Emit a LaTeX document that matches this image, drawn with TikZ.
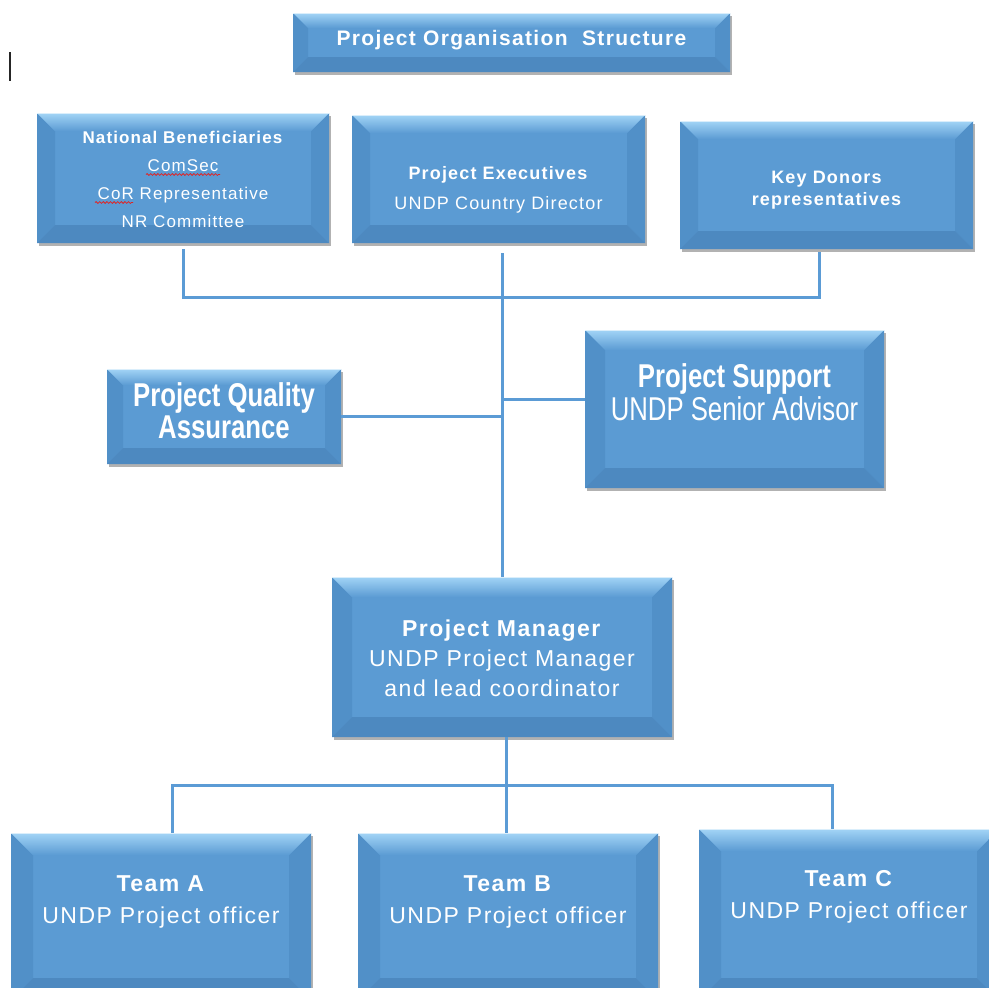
\documentclass[tikz,border=0pt]{standalone}
\usepackage{fontspec}
\setmainfont{Liberation Sans}[LetterSpace=6.5]
\newfontfamily\narrowfont{Liberation Sans}[FakeStretch=0.78]
\usetikzlibrary{shadows,decorations.pathmorphing}
\definecolor{boxmid}{HTML}{5B9BD3}
\definecolor{boxtop}{HTML}{A2D4F6}
\definecolor{boxside}{HTML}{5190C8}
\definecolor{boxbot}{HTML}{4D89C0}
\definecolor{linecol}{HTML}{5B9BD5}
\definecolor{squigred}{HTML}{E02424}
\newcommand\lift[2]{\raisebox{#1}[\height][\depth]{#2}}
\tikzset{
  bevelbox/.style={rectangle, fill=boxmid, inner sep=0pt, text=white,
    drop shadow={shadow xshift=2pt, shadow yshift=-3pt, opacity=0.3, fill=black},
    path picture={
      \path (path picture bounding box.north west) coordinate (oNW)
            (path picture bounding box.north east) coordinate (oNE)
            (path picture bounding box.south west) coordinate (oSW)
            (path picture bounding box.south east) coordinate (oSE);
      \path ([xshift=#1pt,yshift=-#1pt]oNW) coordinate (iNW)
            ([xshift=-#1pt,yshift=-#1pt]oNE) coordinate (iNE)
            ([xshift=#1pt,yshift=#1pt]oSW) coordinate (iSW)
            ([xshift=-#1pt,yshift=#1pt]oSE) coordinate (iSE);
      \fill[boxside] (oNW) -- (iNW) -- (iSW) -- (oSW) -- cycle;
      \fill[boxside] (oNE) -- (iNE) -- (iSE) -- (oSE) -- cycle;
      \fill[boxbot] (oSW) -- (iSW) -- (iSE) -- (oSE) -- cycle;
      \shade[top color=boxtop, bottom color=boxmid] (oNW) -- (oNE) -- (iNE) -- (iNW) -- cycle;
      \draw[white!60!boxtop, line width=1.2pt] (oNW) -- (oNE);
    }},
  bevelbox/.default=20,
  conn/.style={draw=linecol, line width=3pt},
  squiggle/.style={draw=squigred, line width=0.8pt, decorate,
    decoration={snake, amplitude=0.9pt, segment length=3.6pt}}
}
\begin{document}
\begin{tikzpicture}[x=1pt,y=-1pt]
\useasboundingbox (0,0) rectangle (989,988);
\clip (0,0) rectangle (989,988);
\fill[white] (0,0) rectangle (989,988);

% title
\node[bevelbox=15, minimum width=437pt, minimum height=59pt] (title) at (511.5,42.5)
  {\lift{2pt}{\fontsize{21}{26}\selectfont\bfseries Project Organisation~~Structure}};

% top row
\node[bevelbox=18, minimum width=292pt, minimum height=130pt] (NB) at (183,178)
  {\lift{-2pt}{\fontsize{17}{28}\selectfont\begin{tabular}{@{}c@{}}\textbf{National Beneficiaries}\\ ComSec\\ CoR Representative\\ NR Committee\end{tabular}}};
\node[bevelbox=18, minimum width=293pt, minimum height=128pt] (PE) at (498.5,179)
  {\lift{-9pt}{\fontsize{18}{30}\selectfont\begin{tabular}{@{}c@{}}\textbf{Project Executives}\\ UNDP Country Director\end{tabular}}};
\node[bevelbox=18, minimum width=293pt, minimum height=128pt] (KD) at (826.5,185)
  {\lift{-5pt}{\fontsize{18}{22}\selectfont\bfseries\begin{tabular}{@{}c@{}}Key Donors\\ representatives\end{tabular}}};

% spell-check marks under ComSec and CoR
\draw[squiggle] ([shift={(-37pt,3.5pt)}]NB.center) -- ([shift={(37pt,3.5pt)}]NB.center);
\draw[squiggle] ([shift={(-88pt,-24.5pt)}]NB.center) -- ([shift={(-50pt,-24.5pt)}]NB.center);

% middle row
\node[bevelbox=16, minimum width=234pt, minimum height=95pt] (PQA) at (224,416.5)
  {\lift{1pt}{\narrowfont\fontsize{33}{32}\selectfont\bfseries\begin{tabular}{@{}c@{}}Project Quality\\ Assurance\end{tabular}}};
\node[bevelbox=20, minimum width=299pt, minimum height=158pt] (PS) at (734.5,409)
  {\lift{12pt}{\narrowfont\fontsize{33}{32}\selectfont\begin{tabular}{@{}c@{}}\textbf{Project Support}\\ UNDP Senior Advisor\end{tabular}}};

% manager
\node[bevelbox=20, minimum width=340pt, minimum height=160pt] (PM) at (502,657)
  {\lift{-3pt}{\fontsize{23}{30}\selectfont\begin{tabular}{@{}c@{}}\textbf{Project Manager}\\ UNDP Project Manager\\ and lead coordinator\end{tabular}}};

% teams
\node[bevelbox=22, minimum width=300pt, minimum height=167pt] (TA) at (161,916.5)
  {\lift{15pt}{\fontsize{23}{32}\selectfont\begin{tabular}{@{}c@{}}\textbf{Team A}\\ UNDP Project officer\end{tabular}}};
\node[bevelbox=22, minimum width=300pt, minimum height=167pt] (TB) at (508,916.5)
  {\lift{15pt}{\fontsize{23}{32}\selectfont\begin{tabular}{@{}c@{}}\textbf{Team B}\\ UNDP Project officer\end{tabular}}};
\node[bevelbox=22, minimum width=300pt, minimum height=171pt] (TC) at (849,914.5)
  {\lift{18pt}{\fontsize{23}{32}\selectfont\begin{tabular}{@{}c@{}}\textbf{Team C}\\ UNDP Project officer\end{tabular}}};

% connectors
\coordinate (top) at (502,297);
\coordinate (kdp) at ([xshift=-7.5pt]KD.south);
\coordinate (pep) at ([xshift=3.5pt]PE.south);
\coordinate (psp) at ([yshift=10pt]PS.west);
\coordinate (pmp) at ([xshift=4pt]PM.south);
\coordinate (tap) at ([xshift=11pt]TA.north);
\coordinate (tbp) at ([xshift=-2pt]TB.north);
\coordinate (tcp) at ([xshift=-17pt]TC.north);
\coordinate (hb) at (506,785);

\draw[conn] ([yshift=-6pt]NB.south) |- (kdp |- top) -- ([yshift=-3pt]kdp);
\draw[conn] ([yshift=-10pt]pep) -- (pep |- PM.north);
\draw[conn] (PQA.east) -- (PQA.east -| pep);
\draw[conn] (psp) -- (psp -| pep);
\draw[conn] (pmp) -- (tbp);
\draw[conn] (tap) |- (hb) -| (tcp);

% text cursor mark
\draw[black!85, line width=1.6pt] (10,52) -- (10,81);
\end{tikzpicture}
\end{document}
